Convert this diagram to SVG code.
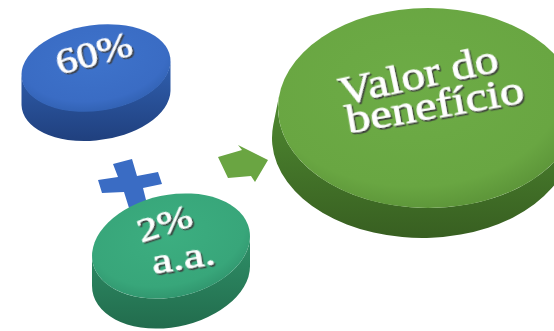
<svg xmlns="http://www.w3.org/2000/svg" width="554" height="331" viewBox="0 0 554 331">
  <defs>
    <style>
      .lbl { font-family: "Liberation Serif", "Times New Roman", serif; fill: #ffffff; stroke: #ffffff; stroke-width: 0.6; text-anchor: middle; filter: url(#emboss); }
    </style>
    <filter id="emboss" x="-10%" y="-20%" width="130%" height="150%">
      <feDropShadow dx="1.4" dy="2" stdDeviation="0.6" flood-color="#3a3a3a" flood-opacity="0.9"/>
    </filter>
    <!-- blue puck -->
    <radialGradient id="blueTop" cx="50%" cy="40%" r="60%">
      <stop offset="0" stop-color="#3e73cb"/>
      <stop offset="0.8" stop-color="#3a6cc4"/>
      <stop offset="1" stop-color="#3262b4"/>
    </radialGradient>
    <linearGradient id="blueSide" x1="0" y1="0" x2="0" y2="1">
      <stop offset="0" stop-color="#3060b0"/>
      <stop offset="1" stop-color="#20407e"/>
    </linearGradient>
    <!-- teal puck -->
    <radialGradient id="tealTop" cx="50%" cy="40%" r="60%">
      <stop offset="0" stop-color="#3cae80"/>
      <stop offset="0.8" stop-color="#38a67a"/>
      <stop offset="1" stop-color="#31976f"/>
    </radialGradient>
    <linearGradient id="tealSide" x1="0" y1="0" x2="0" y2="1">
      <stop offset="0" stop-color="#2f9068"/>
      <stop offset="1" stop-color="#226c4d"/>
    </linearGradient>
    <!-- green puck -->
    <radialGradient id="greenTop" cx="45%" cy="40%" r="60%">
      <stop offset="0" stop-color="#6dac46"/>
      <stop offset="0.82" stop-color="#69a642"/>
      <stop offset="1" stop-color="#5e973a"/>
    </radialGradient>
    <linearGradient id="greenSide" x1="0" y1="0" x2="0" y2="1">
      <stop offset="0" stop-color="#4f8a31"/>
      <stop offset="1" stop-color="#385f21"/>
    </linearGradient>
  </defs>

  <rect width="554" height="331" fill="#ffffff"/>

  <!-- 60% puck -->
  <g id="node-60">
    <path d="M21.5,75 L21.5,105 A75,43 -8 0 0 170.5,91 L170.5,61 A75,43 -8 0 1 21.5,75 Z" fill="url(#blueSide)"/>
    <ellipse cx="0" cy="0" rx="75" ry="43" transform="translate(96,68) rotate(-8)" fill="url(#blueTop)"/>
    <text class="lbl" x="97" y="65" font-size="36" textLength="78" lengthAdjust="spacingAndGlyphs" transform="rotate(-15 97 65)">60%</text>
  </g>

  <!-- plus sign -->
  <g id="plus">
    <polygon points="113,164 132,159 137,176 158,172 162,184 143,188 147,204 129,208 124,192 102,193 98,180 118,177" fill="#3a6cc4"/>
  </g>

  <!-- 2% a.a. puck -->
  <g id="node-2aa">
    <path d="M92,255.8 L92,285.8 A80,51 -12 0 0 250,266.2 L250,236.2 A80,51 -12 0 1 92,255.8 Z" fill="url(#tealSide)"/>
    <ellipse cx="0" cy="0" rx="80" ry="51" transform="translate(171,246) rotate(-12)" fill="url(#tealTop)"/>
    <text class="lbl" x="168" y="234" font-size="34" textLength="56" lengthAdjust="spacingAndGlyphs" transform="rotate(-18 168 234)">2%</text>
    <text class="lbl" x="185" y="269" font-size="36" textLength="64" lengthAdjust="spacingAndGlyphs" transform="rotate(-9 185 269)">a.a.</text>
  </g>

  <!-- arrow between the pucks -->
  <g id="connectors">
    <polygon points="218,157 242,150 238,145 268,160 255,182 251,176 228,178" fill="#6aa542"/>
  </g>

  <!-- Valor do beneficio puck -->
  <g id="node-valor">
    <path d="M279.3,94.8 L273.3,124.8 A150,100 0 0 0 570.7,151.2 L576.7,121.2 A150,100 0 0 1 279.3,94.8 Z" fill="url(#greenSide)"/>
    <ellipse cx="428" cy="108" rx="150" ry="100" fill="url(#greenTop)"/>
    <text class="lbl" x="421" y="88" font-size="40" textLength="162" lengthAdjust="spacingAndGlyphs" transform="rotate(-12 421 88)">Valor do</text>
    <text class="lbl" x="437" y="118" font-size="40" textLength="180" lengthAdjust="spacingAndGlyphs" transform="rotate(-10 437 118)">benefício</text>
  </g>
</svg>
